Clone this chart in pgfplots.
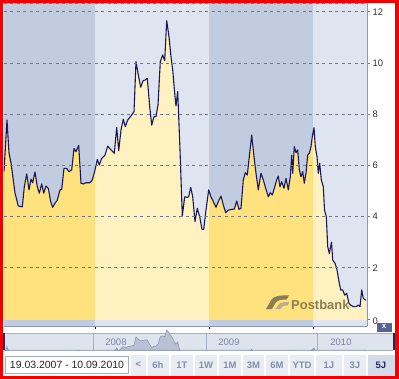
\documentclass[border=0pt]{standalone}
\usepackage{fontspec}
\setmainfont{Liberation Sans}
\usepackage{pgfplots}
\usepackage{pgfplotstable}
\pgfplotsset{compat=1.18}
\usepgfplotslibrary{fillbetween}

\definecolor{bandDark}{RGB}{193,204,224}
\definecolor{bandLight}{RGB}{222,229,240}
\definecolor{ylDark}{RGB}{255,225,125}
\definecolor{ylLight}{RGB}{255,241,192}
\definecolor{curveCol}{RGB}{25,25,90}
\definecolor{gridCol}{RGB}{115,118,138}
\definecolor{axisCol}{RGB}{140,152,185}
\definecolor{navBg}{RGB}{222,228,238}
\definecolor{navFill}{RGB}{185,194,212}
\definecolor{navLine}{RGB}{130,140,165}
\definecolor{navSep}{RGB}{165,175,195}
\definecolor{navText}{RGB}{120,132,158}
\definecolor{btnBg}{RGB}{233,237,243}
\definecolor{btnSel}{RGB}{212,220,234}
\definecolor{btnText}{RGB}{128,143,172}
\definecolor{btnSelText}{RGB}{35,45,100}
\definecolor{logoCol}{RGB}{140,125,85}
\definecolor{logoLight}{RGB}{190,175,130}
\definecolor{frameRed}{RGB}{240,0,0}
\definecolor{navDark}{RGB}{40,40,95}
\definecolor{closeBtn}{RGB}{85,100,150}
\definecolor{boxBorder}{RGB}{165,175,195}

\pgfplotstableread{
x v
4 5.75
7 7.77
9 6.48
11 6.09
15 4.92
18.3 4.41
22.3 4.38
24.3 5.16
26.7 5.66
29 5.04
31 5.46
32.7 5.32
35 5.74
37.3 5.16
39.3 4.91
41.7 5.27
43.7 4.91
46 5.19
48.3 5.10
50.7 4.58
52.7 4.36
55 4.52
57.3 4.64
60 5.04
61.7 5.06
64 5.88
66.7 5.88
69 5.75
71.7 5.82
74 6.66
76 6.53
78.7 6.78
81 5.30
83.3 5.27
86 5.32
90 5.32
92.3 5.43
95 5.82
97.3 6.23
99.3 6.01
101.7 6.27
105 6.40
107.7 6.75
111 6.60
114.3 6.47
116.7 7.48
118.7 6.57
121 7.38
123.3 7.80
125.3 7.51
127.7 7.77
130 7.88
134 8.09
136 10.05
138.3 9.53
140.7 9.05
143 9.30
145 9.33
147.3 9.40
149.7 8.29
151.7 7.57
154 7.90
156 7.90
158 8.36
160.3 10.05
162.7 10.31
164.7 10.09
166.7 11.65
169 11.02
171 10.24
172.7 9.72
175 8.68
176 8.32
177.7 8.88
180 6.60
182.3 4.02
184.7 4.77
187 4.75
188.7 4.77
190.7 5.14
192.7 4.77
195 3.80
197.3 4.32
199.7 3.99
202 3.50
203.7 3.50
206 4.25
208.7 5.04
211 4.77
213.7 4.55
216 4.36
218.3 4.58
221 4.80
223.3 4.45
225.7 4.15
228.3 4.25
232 4.28
234.3 4.29
236.7 4.61
239 4.28
241 4.32
243.3 5.43
245.3 5.71
247.3 5.62
249.3 6.34
251.7 7.18
254 6.34
256 5.69
258.3 5.04
261 5.69
263.3 5.43
265.7 5.10
268.3 4.77
270.3 4.93
272.3 4.84
274.3 5.10
276.7 5.43
278.3 5.58
280 5.16
281.7 5.36
284 5.10
286 5.49
288.3 5.04
290.3 5.55
291.7 6.40
292.7 5.69
294.3 6.73
296 6.49
297.7 6.60
299.3 5.82
301 5.55
302.7 5.75
304.3 5.30
306 5.69
307.7 6.40
309.3 6.47
311 6.73
312.3 7.12
314 7.47
315.3 6.73
317 6.34
318.3 5.69
319.7 6.08
321.3 5.43
323.3 5.16
324.5 4.25
326.3 3.99
327.7 2.82
329.3 2.56
331.5 3.00
332.7 2.30
335 2.17
336.7 1.98
339.3 1.39
340.7 1.13
342.7 1.13
344.7 0.93
346.7 1.00
349 0.61
350.7 0.54
353.3 0.48
356 0.48
358.3 0.54
360 0.48
361.7 1.13
363.3 0.80
365.7 0.73
}\pricedata

\begin{document}
\begin{tikzpicture}
\begin{scope}[x=1bp,y=-1bp]
  \useasboundingbox (0,0) rectangle (399,379);
  \fill[frameRed, even odd rule] (0,0) rectangle (399,379) (3,3) rectangle (395,376);
  \fill[white] (367,3) rectangle (395,376);
  \fill[white] (3,326) rectangle (367,376);
  \fill[white] (3,3) rectangle (3.5,326);
\end{scope}

% main chart
\begin{axis}[
  at={(3.5bp,-3bp)}, anchor=north west,
  scale only axis, width=363.5bp, height=323bp,
  set layers, axis on top,
  xmin=3.5, xmax=367, ymin=-0.277, ymax=12.34,
  axis x line*=bottom, axis y line*=right,
  axis line style={draw=axisCol, line width=0.8bp},
  xtick={95,209,313}, xticklabels={},
  x tick style={draw=black, line width=0.8bp},
  major tick length=2.5bp, tick align=outside,
  ytick={2,4,...,12},
  extra y ticks={0}, extra y tick style={grid=none, tick label style={yshift=-2bp}},
  ymajorgrids,
  grid style={draw=gridCol, dash pattern=on 3bp off 3.5bp, line width=0.6bp},
  y tick style={draw=gridCol, line width=0.6bp},
  /pgf/number format/assume math mode=true,
  yticklabel style={font=\fontsize{9.5}{11}\selectfont, text=black!80, inner sep=1bp, xshift=2bp},
]
\begin{pgfonlayer}{axis background}
  \fill[bandDark] (axis cs:3.5,-0.277) rectangle (axis cs:95,12.34);
  \fill[bandLight] (axis cs:95,-0.277) rectangle (axis cs:209,12.34);
  \fill[bandDark] (axis cs:209,-0.277) rectangle (axis cs:313,12.34);
  \fill[bandLight] (axis cs:313,-0.277) rectangle (axis cs:367,12.34);
\end{pgfonlayer}
\addplot[name path=curve, draw=none, forget plot] table[x=x,y=v]{\pricedata};
\addplot[name path=base, draw=none, forget plot] coordinates {(3.5,-0.04) (367,-0.04)};
\addplot[fill=ylLight, draw=none] fill between[of=curve and base];
\addplot[fill=ylDark, draw=none] fill between[of=curve and base, soft clip={domain=3.5:95}];
\addplot[fill=ylDark, draw=none] fill between[of=curve and base, soft clip={domain=209:313}];
\addplot[curveCol, line width=1.1bp, line join=round] table[x=x,y=v]{\pricedata};
\draw[draw=gridCol, dash pattern=on 3bp off 3.5bp, line width=0.6bp] (rel axis cs:0,1) -- (rel axis cs:1,1);
\end{axis}

% navigator background
\begin{scope}[x=1bp,y=-1bp]
  \fill[navBg] (4,333) rectangle (393,350);
  \draw[navSep, line width=0.8bp] (4,333) -- (393,333);
  \draw[navSep, line width=0.6bp] (4,350) -- (393,350);
\end{scope}

% navigator mini chart
\begin{axis}[
  at={(3.5bp,-328bp)}, anchor=north west,
  scale only axis, width=363.5bp, height=22bp,
  xmin=3.5, xmax=367, ymin=7.0, ymax=12.12,
  hide axis, clip=true,
]
\addplot[fill=navFill, draw=navLine, line width=0.5bp] table[x=x,y=v]{\pricedata} \closedcycle;
\end{axis}

\begin{scope}[x=1bp,y=-1bp, font=\fontsize{9.5}{11}\selectfont]
  \foreach \s in {93,206,317} \draw[navSep, line width=0.8bp] (\s,333) -- (\s,350);
  \fill[navDark] (3,333) rectangle (5,350);
  \fill[navDark] (392.5,333) rectangle (395,350);
  \node[text=navText] at (116,342) {2008};
  \node[text=navText] at (229,342) {2009};
  \node[text=navText] at (341,342) {2010};
  % close button
  \fill[closeBtn] (376.5,322.5) rectangle (391.5,331.5);
  \node[text=white, font=\bfseries\fontsize{8}{9}\selectfont, inner sep=0] at (384,326.8) {x};
  % Postbank logo
  \fill[logoCol] (266,309) -- (271.5,299.5) .. controls (273.5,296.5) and (279,295) .. (289,295.5)
        -- (286.5,299.5) .. controls (280,299.5) and (277,300.5) .. (275.5,303) -- (272,309) -- cycle;
  \fill[logoLight] (275.5,309) -- (278.5,304.5) .. controls (280,302.5) and (283.5,302) .. (289.5,302)
        -- (287.5,305.5) .. controls (284,305.5) and (282.5,306) .. (281.5,307.5) -- (280.5,309) -- cycle;
  \node[text=logoCol, anchor=base west, inner sep=0, font=\bfseries\fontsize{13}{14}\selectfont] at (291,309) {Postbank};
  % date range box
  \draw[fill=white, draw=boxBorder, line width=0.8bp] (5,356) rectangle (128.5,373.5);
  \node[text=black!85, font=\fontsize{10.5}{12}\selectfont, inner sep=0] at (67,365) {19.03.2007 - 10.09.2010};
  % buttons
  \fill[btnBg] (131,355) rectangle (394.5,375.5);
  \fill[btnSel] (367,355) rectangle (394.5,375.5);
  \foreach \s in {147,170,194,218,242,265,289,315,343,367} \draw[white, line width=1.2bp] (\s,355) -- (\s,375.5);
  \begin{scope}[font=\bfseries\fontsize{9.5}{11}\selectfont]
  \node[text=btnText] at (138.5,364.5) {<};
  \node[text=btnText] at (158,365) {6h};
  \node[text=btnText] at (182,365) {1T};
  \node[text=btnText] at (206,365) {1W};
  \node[text=btnText] at (230,365) {1M};
  \node[text=btnText] at (253.5,365) {3M};
  \node[text=btnText] at (277,365) {6M};
  \node[text=btnText] at (302,365) {YTD};
  \node[text=btnText] at (329,365) {1J};
  \node[text=btnText] at (355,365) {3J};
  \node[text=btnSelText] at (381,365) {5J};
  \end{scope}
\end{scope}
\end{tikzpicture}
\end{document}
